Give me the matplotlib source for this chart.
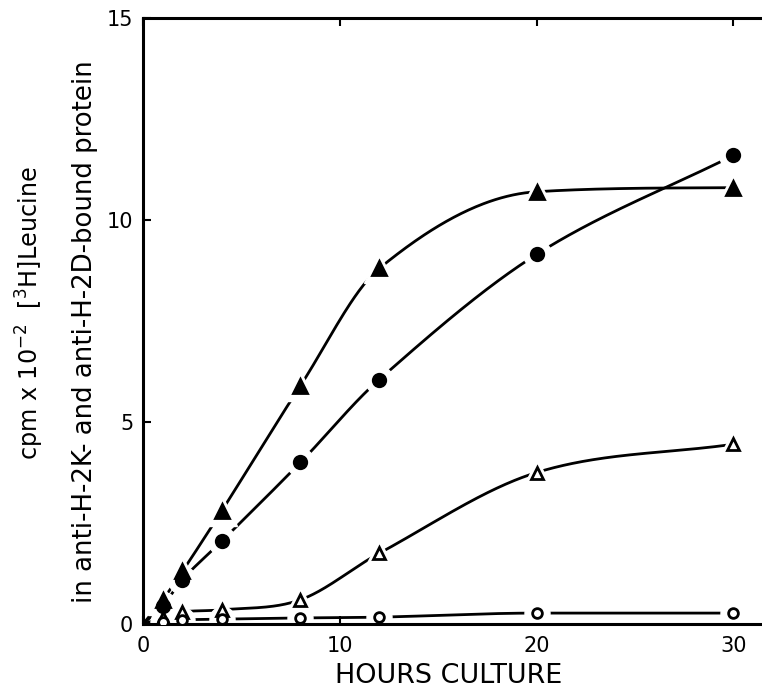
import numpy as np
import matplotlib
matplotlib.use("Agg")
import matplotlib.pyplot as plt

# data (hours, cpm x 10^-2)
hours = [0, 1, 2, 4, 8, 12, 20, 30]
filled_tri = [0, 0.6, 1.3, 2.8, 5.9, 8.8, 10.7, 10.8]
filled_circ = [0, 0.45, 1.1, 2.05, 4.0, 6.05, 9.15, 11.6]
open_tri = [0, 0.15, 0.3, 0.35, 0.6, 1.75, 3.75, 4.45]
open_circ = [0, 0.05, 0.1, 0.12, 0.15, 0.17, 0.27, 0.27]

x_ticks = [0, 10, 20, 30]
y_ticks = [0, 5, 10, 15]

W, H = 762, 688


def smooth(x, y, n=400):
    # cubic hermite, central slopes with a monotone limiter; only for drawing
    x = np.asarray(x, float)
    y = np.asarray(y, float)
    h = np.diff(x)
    d = np.diff(y) / h
    m = np.zeros_like(y)
    m[0], m[-1] = d[0], d[-1]
    m[1:-1] = (y[2:] - y[:-2]) / (x[2:] - x[:-2])
    for i in range(len(d)):
        if d[i] == 0:
            m[i] = m[i + 1] = 0
            continue
        a, b = m[i] / d[i], m[i + 1] / d[i]
        if a * a + b * b > 9:
            tau = 3 / np.sqrt(a * a + b * b)
            m[i], m[i + 1] = tau * a * d[i], tau * b * d[i]
    xs = np.linspace(x[0], x[-1], n)
    k = np.clip(np.searchsorted(x, xs) - 1, 0, len(x) - 2)
    t = (xs - x[k]) / h[k]
    h00 = 2 * t**3 - 3 * t**2 + 1
    h10 = t**3 - 2 * t**2 + t
    h01 = -2 * t**3 + 3 * t**2
    h11 = t**3 - t**2
    ys = h00 * y[k] + h10 * h[k] * m[k] + h01 * y[k + 1] + h11 * h[k] * m[k + 1]
    return xs, ys


fig = plt.figure(figsize=(W / 100, H / 100), dpi=100)
ax = fig.add_axes([143 / W, 64 / H, 620 / W, 606 / H])

series = [
    (filled_tri, "^", "black", 10),
    (filled_circ, "o", "black", 9),
    (open_tri, "^", "white", 9),
    (open_circ, "o", "white", 7),
]
for vals, mk, face, ms in series:
    xs, ys = smooth(hours, vals)
    ax.plot(xs, ys, color="black", lw=2, zorder=1, solid_capstyle="butt")
    ax.plot(hours[1:], vals[1:], ls="none", marker=mk, ms=ms + 11,
            mfc="white", mec="white", zorder=2)
    ax.plot(hours[1:], vals[1:], ls="none", marker=mk, ms=ms,
            mfc=face, mec="black", mew=2, zorder=3)

ax.set_xlim(0, 31.5)
ax.set_ylim(0, 15)
ax.set_xticks(x_ticks)
ax.set_yticks(y_ticks)
ax.spines["right"].set_visible(False)
for s in ["left", "bottom", "top"]:
    ax.spines[s].set_linewidth(2.2)
ax.tick_params(direction="in", length=6, width=1.5, labelsize=15,
               top=True, right=False)
ax.tick_params(axis="x", pad=9)
ax.tick_params(axis="y", pad=7)

xlab = fig.text(449 / W, 1 - 676 / H, "HOURS CULTURE",
                ha="center", va="center", fontsize=18)
ylab1 = fig.text(30 / W, 1 - 313 / H, "cpm x 10$^{-2}$  [$^3$H]Leucine",
                 rotation=90, ha="center", va="center", fontsize=18)
ylab2 = fig.text(85 / W, 1 - 332 / H, "in anti-H-2K- and anti-H-2D-bound protein",
                 rotation=90, ha="center", va="center", fontsize=18)

# scale label fonts to the lengths they take in the original
fig.canvas.draw()
r = fig.canvas.get_renderer()
for txt, target, vertical in [(xlab, 228, False), (ylab1, 293, True), (ylab2, 545, True)]:
    bb = txt.get_window_extent(r)
    length = bb.height if vertical else bb.width
    txt.set_fontsize(txt.get_fontsize() * target / length)

fig.savefig("out.png", dpi=100)
